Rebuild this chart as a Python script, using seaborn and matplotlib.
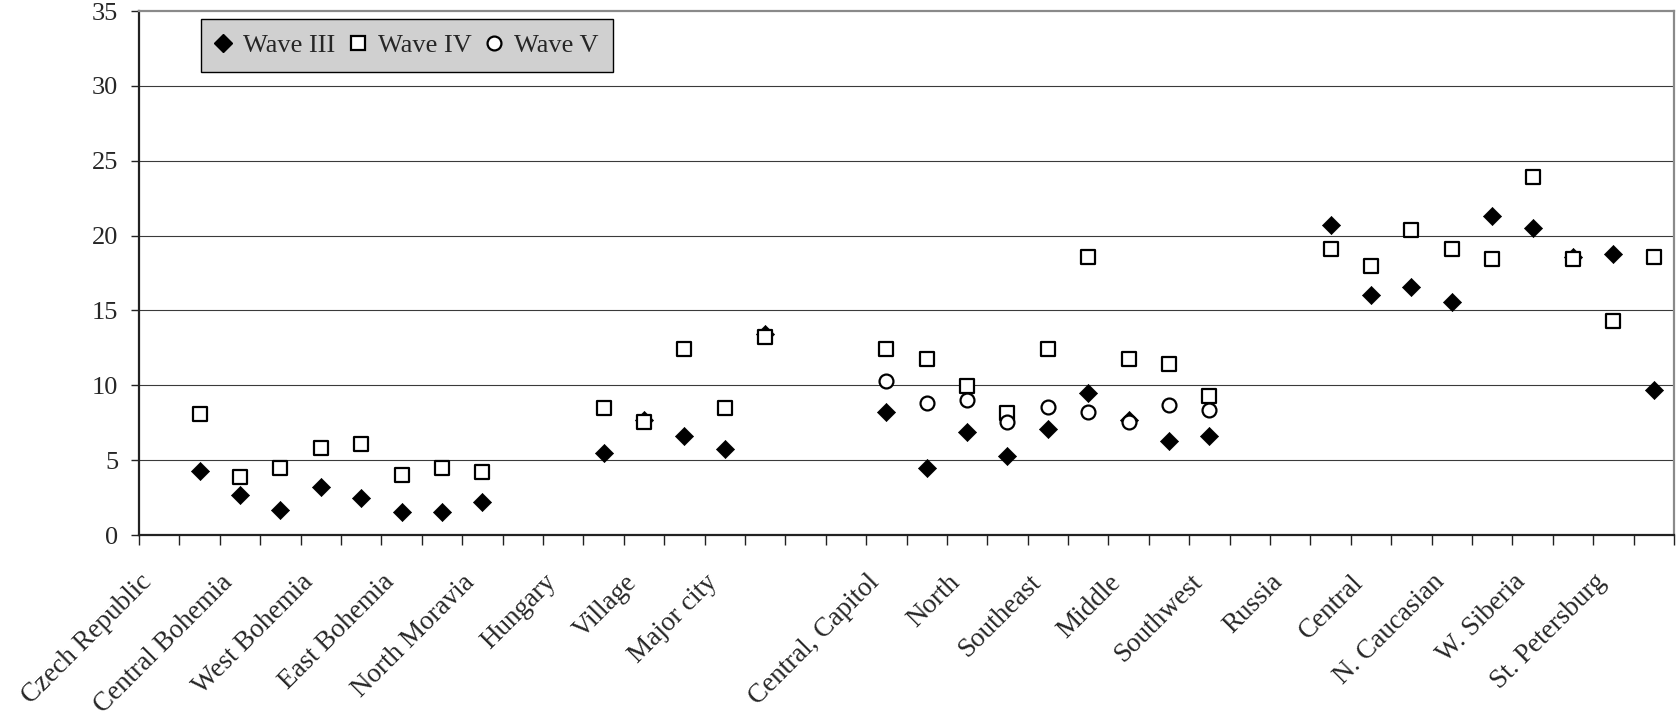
import numpy as np
import pandas as pd
import matplotlib
matplotlib.use("Agg")
import matplotlib.pyplot as plt
from matplotlib.lines import Line2D
from matplotlib.ticker import FixedLocator, NullFormatter, FixedFormatter
import matplotlib.transforms as mtransforms
import seaborn as sns

# ---------------- data ----------------
categories = [
    "Czech Republic", "(unlabelled 1)", "Central Bohemia", "(unlabelled 3)",
    "West Bohemia", "(unlabelled 5)", "East Bohemia", "(unlabelled 7)",
    "North Moravia", "(unlabelled 9)", "Hungary", "(unlabelled 11)",
    "Village", "(unlabelled 13)", "Major city", "(unlabelled 15)",
    " ", "(unlabelled 17)", "Central, Capitol", "(unlabelled 19)",
    "North", "(unlabelled 21)", "Southeast", "(unlabelled 23)",
    "Middle", "(unlabelled 25)", "Southwest", "(unlabelled 27)",
    "Russia", "(unlabelled 29)", "Central", "(unlabelled 31)",
    "N. Caucasian", "(unlabelled 33)", "W. Siberia", "(unlabelled 35)",
    "St. Petersburg", "(unlabelled 37)",
]
nan = np.nan
wave_iii = [nan, 4.3, 2.65, 1.7, 3.2, 2.5, 1.55, 1.55, 2.2, nan,
            nan, 5.45, 7.7, 6.6, 5.75, 13.45, nan, nan,
            8.2, 4.45, 6.9, 5.3, 7.05, 9.5, 7.65, 6.25, 6.6, nan,
            nan, 20.7, 16.05, 16.55, 15.55, 21.3, 20.5, 18.55, 18.75, 9.7]
wave_iv = [nan, 8.1, 3.85, 4.5, 5.8, 6.1, 4.0, 4.5, 4.2, nan,
           nan, 8.5, 7.55, 12.4, 8.5, 13.2, nan, nan,
           12.4, 11.75, 9.95, 8.15, 12.4, 18.6, 11.75, 11.45, 9.3, nan,
           nan, 19.1, 18.0, 20.4, 19.1, 18.45, 23.9, 18.45, 14.3, 18.6]
wave_v = [nan] * 18 + [10.3, 8.85, 9.0, 7.55, 8.55, 8.2, 7.55, 8.7, 8.35] + [nan] * 11
series_names = ["Wave III", "Wave IV", "Wave V"]
y_ticks = [0, 5, 10, 15, 20, 25, 30, 35]

# ---------------- layout ----------------
sns.set_theme(style="white")
plt.rcParams["font.family"] = ["Liberation Serif", "DejaVu Serif"]

W, H = 1677, 715
fig = plt.figure(figsize=(W / 100, H / 100), dpi=100)
L, R, T, B = 139, 1674, 11, 535
ax = fig.add_axes([L / W, 1 - B / H, (R - L) / W, (B - T) / H])

pos = np.arange(len(categories))
df = pd.DataFrame({"pos": pos, "category": categories,
                   "Wave III": wave_iii, "Wave IV": wave_iv, "Wave V": wave_v})

styles = {
    "Wave III": dict(marker="D", s=85, color="black", edgecolor="black", linewidth=0.5),
    "Wave IV": dict(marker="s", s=100, color="white", edgecolor="black", linewidth=1.6),
    "Wave V": dict(marker="o", s=100, color="white", edgecolor="black", linewidth=1.6),
}
for name in series_names:
    sub = df[["pos", name]].dropna()
    sns.scatterplot(data=sub, x="pos", y=name, ax=ax, zorder=3, legend=False,
                    **styles[name])

ax.set_xlim(-0.5, len(categories) - 0.5)
ax.set_ylim(0, 35)
ax.set_yticks(y_ticks)
ax.set_yticklabels([str(v) for v in y_ticks], fontsize=19)
ax.set_xlabel("")
ax.set_ylabel("")

# gridlines
ax.grid(False)
for v in y_ticks[1:-1]:
    ax.axhline(v, color="#3a3a3a", lw=0.8, zorder=1)

# spines
for side in ["left", "bottom"]:
    ax.spines[side].set_color("#222222")
    ax.spines[side].set_linewidth(1.6)
for side in ["top", "right"]:
    ax.spines[side].set_color("#8a8a8a")
    ax.spines[side].set_linewidth(1.6)

# x ticks: marks at category boundaries, labels at every other centre
ax.xaxis.set_major_locator(FixedLocator(np.arange(-0.5, len(categories), 1.0)))
ax.xaxis.set_major_formatter(NullFormatter())
shown = [i for i in range(len(categories)) if i % 2 == 0]
ax.xaxis.set_minor_locator(FixedLocator(shown))
ax.xaxis.set_minor_formatter(FixedFormatter([categories[i] for i in shown]))
ax.tick_params(axis="x", which="major", direction="out", length=7, width=1.0,
               color="#222222", bottom=True)
ax.tick_params(axis="x", which="minor", length=0, pad=25, labelsize=19.5, bottom=True)
ax.tick_params(axis="y", direction="out", length=6, width=1.0, color="#222222",
               pad=9, left=True)
offset = mtransforms.ScaledTranslation(-20 / 100, 0, fig.dpi_scale_trans)
for lab in ax.xaxis.get_minorticklabels():
    lab.set_rotation(45)
    lab.set_ha("right")
    lab.set_va("top")
    lab.set_rotation_mode("anchor")
    lab.set_transform(lab.get_transform() + offset)

# legend
handles = [
    Line2D([], [], ls="", marker="D", markersize=9, markerfacecolor="black",
           markeredgecolor="black"),
    Line2D([], [], ls="", marker="s", markersize=10, markerfacecolor="white",
           markeredgecolor="black", markeredgewidth=1.6),
    Line2D([], [], ls="", marker="o", markersize=10, markerfacecolor="white",
           markeredgecolor="black", markeredgewidth=1.6),
]
leg = ax.legend(handles, series_names, ncol=3, loc="upper left",
                bbox_to_anchor=((201 - L) / (R - L), (B - 19) / (B - T)),
                frameon=True, fancybox=False, framealpha=1, facecolor="#d0d0d0",
                edgecolor="black", fontsize=19, handlelength=0.6,
                handletextpad=0.45, columnspacing=0.55, borderpad=0.55,
                borderaxespad=0)
leg.get_frame().set_linewidth(1.0)
leg.set_zorder(5)

fig.savefig("out.png", dpi=100, facecolor="white")
